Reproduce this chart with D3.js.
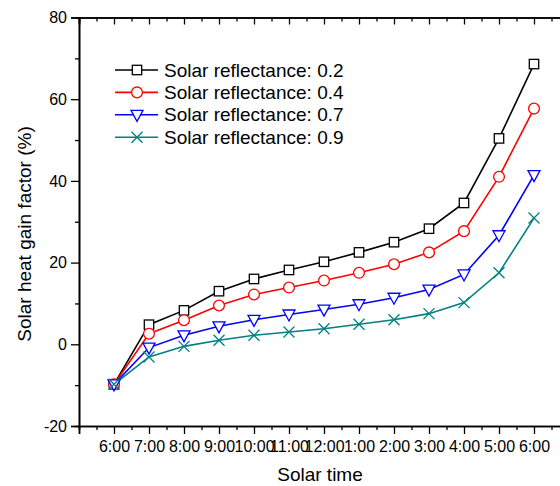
<!DOCTYPE html>
<html>
<head>
<meta charset="utf-8">
<script src="https://cdn.jsdelivr.net/npm/d3@7"></script>
<style>
  body { margin: 0; background: #fff; }
  svg { display: block; font-family: "Liberation Sans", Arial, sans-serif; }
</style>
</head>
<body>
<svg id="svg" width="560" height="486"></svg>
<script>
// data
var times = ["6:00", "7:00", "8:00", "9:00", "10:00", "11:00", "12:00", "1:00", "2:00", "3:00", "4:00", "5:00", "6:00"];
var r02 = [-9.8, 4.8, 8.3, 13.0, 16.0, 18.2, 20.2, 22.5, 25.0, 28.3, 34.6, 50.4, 68.6];
var r04 = [-9.8, 2.6, 5.9, 9.5, 12.2, 13.9, 15.6, 17.5, 19.6, 22.5, 27.7, 41.0, 57.7];
var r07 = [-9.8, -0.8, 2.2, 4.4, 6.0, 7.3, 8.5, 9.8, 11.4, 13.4, 17.1, 26.7, 41.4];
var r09 = [-9.8, -3.1, -0.5, 1.0, 2.2, 3.0, 3.8, 4.9, 6.0, 7.5, 10.2, 17.5, 30.9];
var seriesNames = ["Solar reflectance: 0.2", "Solar reflectance: 0.4", "Solar reflectance: 0.7", "Solar reflectance: 0.9"];
var yTicks = [-20, 0, 20, 40, 60, 80];

var series = [
  { name: seriesNames[0], values: r02, color: "#000000", symbol: "square" },
  { name: seriesNames[1], values: r04, color: "#ff0000", symbol: "circle" },
  { name: seriesNames[2], values: r07, color: "#0000ff", symbol: "triangle" },
  { name: seriesNames[3], values: r09, color: "#008080", symbol: "cross" }
];

var svg = d3.select("#svg");

// index -1 .. 13 so the first and last time sit one step in from the frame
var x = d3.scaleLinear().domain([-1, 13]).range([79, 569]);
var y = d3.scaleLinear().domain([-20, 80]).range([426, 17.5]);

var majorX = d3.range(-1, 14);
var minorX = d3.range(-0.5, 13, 1);
var minorY = d3.range(-10, 80, 20);

// bottom axis (major ticks with labels, minor ticks without)
svg.append("g")
  .attr("transform", "translate(0,426)")
  .call(d3.axisBottom(x).tickValues(minorX).tickSize(4).tickFormat(""));
svg.append("g")
  .attr("class", "xaxis")
  .attr("transform", "translate(0,426)")
  .call(d3.axisBottom(x).tickValues(majorX).tickSize(8).tickPadding(7)
    .tickFormat(d => (d >= 0 && d < times.length) ? times[d] : ""));

// top axis, ticks pointing in
svg.append("g")
  .attr("transform", "translate(0,17.5)")
  .call(d3.axisBottom(x).tickValues(minorX).tickSize(4).tickFormat(""));
svg.append("g")
  .attr("transform", "translate(0,17.5)")
  .call(d3.axisBottom(x).tickValues(majorX).tickSize(7).tickFormat(""));

// left axis
svg.append("g")
  .attr("transform", "translate(79,0)")
  .call(d3.axisLeft(y).tickValues(minorY).tickSize(4).tickFormat(""));
svg.append("g")
  .attr("class", "yaxis")
  .attr("transform", "translate(79,0)")
  .call(d3.axisLeft(y).tickValues(yTicks).tickSize(8).tickPadding(4)
    .tickFormat(d => String(d)));

// right axis (mostly off the edge), ticks pointing in
svg.append("g")
  .attr("transform", "translate(569,0)")
  .call(d3.axisLeft(y).tickValues(yTicks).tickSize(-8).tickFormat(""));

svg.selectAll(".domain").attr("stroke", "#000").attr("stroke-width", 1.6);
svg.selectAll(".tick line").attr("stroke", "#000").attr("stroke-width", 1.3);
svg.selectAll(".tick text").attr("font-size", 16).attr("fill", "#000")
  .attr("font-family", "Liberation Sans, Arial, sans-serif");

// axis titles
svg.append("text")
  .attr("x", 320).attr("y", 481)
  .attr("text-anchor", "middle")
  .attr("font-size", 19)
  .text("Solar time");
svg.append("text")
  .attr("transform", "translate(31,234)rotate(-90)")
  .attr("text-anchor", "middle")
  .attr("font-size", 19)
  .text("Solar heat gain factor (%)");

function drawMarker(g, symbol, color) {
  if (symbol == "square") {
    g.append("rect").attr("x", -4.7).attr("y", -4.7).attr("width", 9.4).attr("height", 9.4)
      .attr("fill", "#fff").attr("stroke", color).attr("stroke-width", 1.3);
  } else if (symbol == "circle") {
    g.append("circle").attr("r", 5.4)
      .attr("fill", "#fff").attr("stroke", color).attr("stroke-width", 1.3);
  } else if (symbol == "triangle") {
    g.append("path").attr("d", "M-6,-4.5L6,-4.5L0,6.5Z")
      .attr("fill", "#fff").attr("stroke", color).attr("stroke-width", 1.3);
  } else {
    g.append("path").attr("d", "M-5.5,-5.5L5.5,5.5M-5.5,5.5L5.5,-5.5")
      .attr("fill", "none").attr("stroke", color).attr("stroke-width", 1.3);
  }
}

var line = d3.line().x((d, i) => x(i)).y(d => y(d));

series.forEach(s => {
  svg.append("path")
    .datum(s.values)
    .attr("fill", "none")
    .attr("stroke", s.color)
    .attr("stroke-width", 1.6)
    .attr("d", line);
});

series.forEach(s => {
  s.values.forEach((v, i) => {
    var g = svg.append("g").attr("transform", "translate(" + x(i) + "," + y(v) + ")");
    drawMarker(g, s.symbol, s.color);
  });
});

// legend
var legend = svg.selectAll(".legend")
  .data(series)
  .enter().append("g")
  .attr("class", "legend")
  .attr("transform", (d, i) => "translate(0," + (70 + i * 22.4) + ")");
legend.append("line")
  .attr("x1", 115).attr("x2", 158)
  .attr("stroke", d => d.color).attr("stroke-width", 1.6);
legend.each(function (d) {
  var g = d3.select(this).append("g").attr("transform", "translate(137,0)");
  drawMarker(g, d.symbol, d.color);
});
legend.append("text")
  .attr("x", 164).attr("y", 0).attr("dy", "0.35em")
  .attr("font-size", 19)
  .text(d => d.name);
</script>
</body>
</html>
